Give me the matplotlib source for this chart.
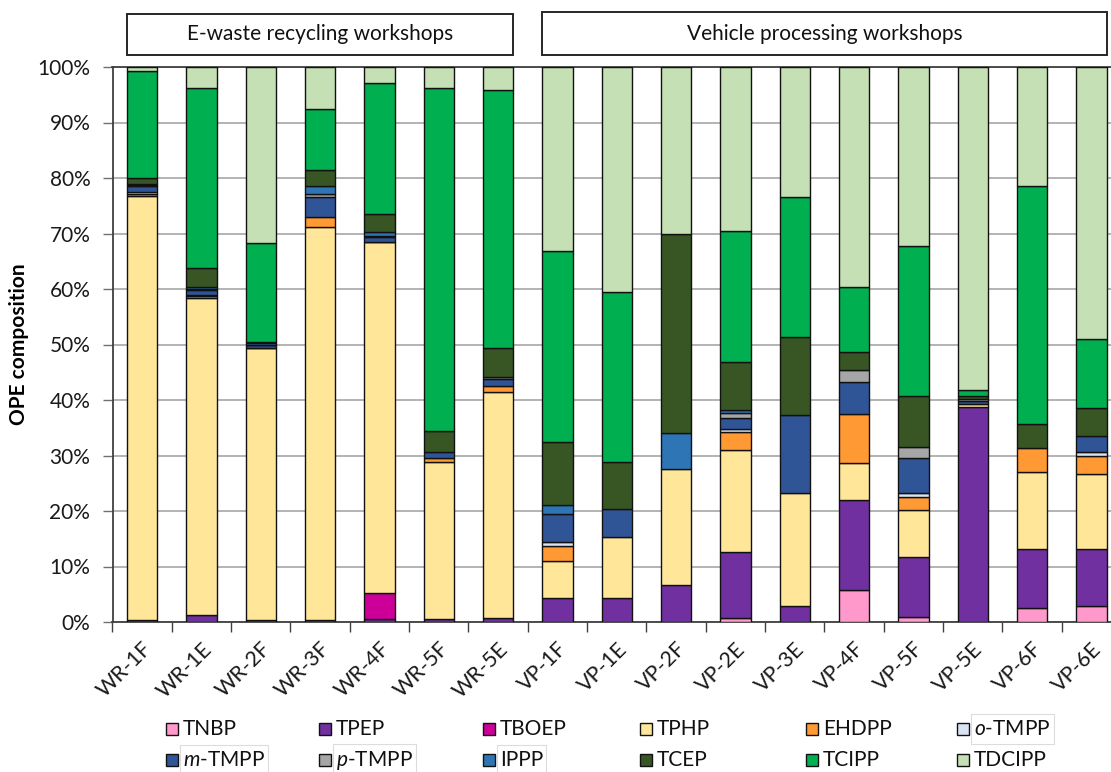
import matplotlib
matplotlib.use("Agg")
import matplotlib.pyplot as plt
import matplotlib.transforms as mtransforms
from matplotlib.patches import Rectangle
import numpy as np

plt.rcParams['font.family'] = ['Lato', 'DejaVu Sans']
plt.rcParams['mathtext.fontset'] = 'custom'
plt.rcParams['mathtext.rm'] = 'Lato'
plt.rcParams['mathtext.it'] = 'Lato:italic'

# Sample sites
samples = ['WR-1F', 'WR-1E', 'WR-2F', 'WR-3F', 'WR-4F', 'WR-5F', 'WR-5E',
           'VP-1F', 'VP-1E', 'VP-2F', 'VP-2E', 'VP-3E', 'VP-4F', 'VP-5F',
           'VP-5E', 'VP-6F', 'VP-6E']

groups = ['E-waste recycling workshops', 'Vehicle processing workshops']
group_sizes = [7, 10]

# Composition (%) of each OPE per sample
TNBP   = [0, 0, 0, 0, 0, 0, 0, 0, 0, 0, 0.7, 0, 5.8, 0.9, 0, 2.5, 2.9]
TPEP   = [0.3, 1.2, 0.3, 0.3, 0.5, 0.5, 0.7, 4.3, 4.3, 6.7, 12.0, 2.9, 16.2, 10.8, 38.7, 10.7, 10.2]
TBOEP  = [0, 0, 0, 0, 4.7, 0, 0, 0, 0, 0, 0, 0, 0, 0, 0, 0, 0]
TPHP   = [76.5, 57.1, 49.0, 70.9, 63.2, 28.4, 40.8, 6.7, 11.1, 20.9, 18.3, 20.4, 6.7, 8.4, 0.6, 13.9, 13.6]
EHDPP  = [0.3, 0.5, 0, 1.8, 0, 0.6, 1.0, 2.7, 0, 0, 3.3, 0, 8.8, 2.5, 0, 4.2, 3.2]
oTMPP  = [0.3, 0.1, 0.1, 0, 0.1, 0, 0, 0.8, 0, 0, 0.4, 0, 0, 0.6, 0, 0, 0.8]
mTMPP  = [1.1, 0.9, 0.5, 3.5, 0.9, 1.2, 1.3, 4.9, 4.9, 0, 2.0, 14.0, 5.8, 6.3, 0.5, 0, 2.8]
pTMPP  = [0.2, 0.2, 0.1, 0.7, 0.2, 0, 0.3, 0, 0, 0, 0.9, 0, 2.1, 2.1, 0.4, 0, 0]
IPPP   = [0.2, 0.4, 0.3, 1.4, 0.6, 0, 0.1, 1.6, 0, 6.4, 0.6, 0, 0, 0, 0, 0, 0]
TCEP   = [1.1, 3.4, 0.2, 2.8, 3.3, 3.7, 5.1, 11.5, 8.6, 36.0, 8.7, 14.0, 3.3, 9.2, 0.6, 4.4, 5.1]
TCIPP  = [19.2, 32.5, 17.7, 11.0, 23.6, 61.8, 46.6, 34.4, 30.5, 0, 23.6, 25.2, 11.7, 27.0, 1.0, 42.9, 12.4]
TDCIPP = [0.8, 3.7, 31.8, 7.6, 2.9, 3.8, 4.1, 33.1, 40.6, 30.0, 29.5, 23.5, 39.6, 32.2, 58.2, 21.4, 49.0]

series = [
    ('TNBP', TNBP, '#FF99CC'),
    ('TPEP', TPEP, '#7030A0'),
    ('TBOEP', TBOEP, '#CC0099'),
    ('TPHP', TPHP, '#FFE699'),
    ('EHDPP', EHDPP, '#FF9933'),
    (r'$\it{o}$-TMPP', oTMPP, '#DAE3F3'),
    (r'$\it{m}$-TMPP', mTMPP, '#2F5597'),
    (r'$\it{p}$-TMPP', pTMPP, '#A6A6A6'),
    ('IPPP', IPPP, '#2E75B6'),
    ('TCEP', TCEP, '#375623'),
    ('TCIPP', TCIPP, '#00B050'),
    ('TDCIPP', TDCIPP, '#C5E0B4'),
]

W, H = 1111, 772
fig = plt.figure(figsize=(W / 100, H / 100), dpi=100)
ax = fig.add_axes([112.5 / W, 150 / H, 1008.6 / W, 555 / H])

x = np.arange(len(samples))
bw = 0.51
bottom = np.zeros(len(samples))
for name, vals, col in series:
    vals = np.asarray(vals, dtype=float)
    bars = ax.bar(x, vals, bw, bottom=bottom, color=col, edgecolor='#111111',
                  linewidth=1.0, zorder=3)
    for b, v in zip(bars, vals):
        if v == 0:
            b.set_visible(False)
    bottom += vals

ax.set_xlim(-0.5, len(samples) - 0.5)
ax.set_ylim(0, 100)
ax.set_yticks(np.arange(0, 101, 10))
ax.set_yticklabels([f'{v}%' for v in range(0, 101, 10)], fontsize=15, color='#1a1a1a')
ax.yaxis.grid(True, color='#b3b3b3', linewidth=1.4, zorder=0)
ax.set_axisbelow(True)
ax.tick_params(axis='y', direction='out', length=7, width=1.0, color='#707070', pad=9)

ax.set_xticks(x)
ax.set_xticklabels(samples, rotation=45, ha='right', va='top',
                   rotation_mode='anchor', fontsize=15.5, color='#1a1a1a')
ax.tick_params(axis='x', which='major', length=0, pad=12)
ax.set_xticks(np.arange(-0.5, len(samples), 1), minor=True)
ax.tick_params(axis='x', which='minor', direction='out', length=7, width=1.0, color='#404040')

for s in ['left', 'bottom', 'top', 'right']:
    ax.spines[s].set_color('#404040')
    ax.spines[s].set_linewidth(1.3)

ax.set_ylabel('OPE composition', fontsize=15, fontweight='bold')
ax.yaxis.set_label_coords(-83 / 1008.6, 0.5)

# Group header boxes above the bars
trans = mtransforms.blended_transform_factory(ax.transData, fig.transFigure)
start = 0
box_y = [(717 / H, 758 / H), (717 / H, 760 / H)]
for (label, n), (y0, y1) in zip(zip(groups, group_sizes), box_y):
    left = start - bw / 2
    right = start + n - 1 + bw / 2
    fig.add_artist(Rectangle((left, y0), right - left, y1 - y0, transform=trans,
                             facecolor='white', edgecolor='#262626', linewidth=1.4,
                             clip_on=False))
    fig.text((left + right) / 2, (y0 + y1) / 2, label, transform=trans,
             ha='center', va='center', fontsize=15, color='#111111')
    start += n

# Legend laid out in a 6 x 2 grid
col_x = [166, 319, 483, 640, 806, 957]
row_y = [729, 760]
for i, (name, vals, col) in enumerate(series):
    r, c = divmod(i, 6)
    px, py = col_x[c], row_y[r]
    fig.add_artist(Rectangle((px / W, (H - py - 6) / H), 12 / W, 12 / H,
                             transform=fig.transFigure, facecolor=col,
                             edgecolor='#111111', linewidth=1.0))
    t = fig.text((px + 17) / W, (H - py) / H, name, ha='left', va='center',
                 fontsize=15, color='#111111')
    if '$' in name or name == 'IPPP':
        fig.canvas.draw()
        bb = t.get_window_extent()
        fig.add_artist(Rectangle(((bb.x0 - 3) / W, (bb.y0 - 5) / H),
                                 (bb.width + 6) / W, (bb.height + 10) / H,
                                 transform=fig.transFigure, facecolor='none',
                                 edgecolor='#dcdcdc', linewidth=0.8))

fig.savefig('out.png', dpi=100)
